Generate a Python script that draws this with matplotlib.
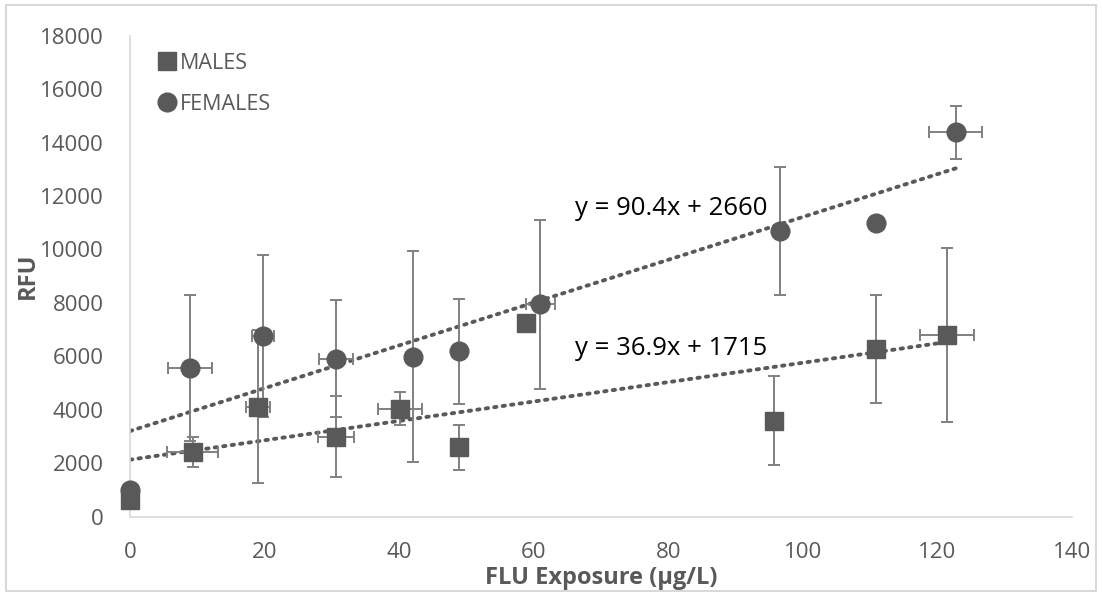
import numpy as np
import matplotlib
matplotlib.use("Agg")
import matplotlib.pyplot as plt
from matplotlib.patches import Rectangle

plt.rcParams['font.family'] = ['Open Sans', 'DejaVu Sans']

# MALES
male_x = [0, 9.3, 19.0, 30.6, 40.1, 48.9, 58.9, 95.7, 110.9, 121.4]
male_y = [650, 2420, 4120, 3000, 4050, 2610, 7260, 3600, 6280, 6810]
male_yerr = [0, 560, 2860, 1510, 630, 840, 0, 1670, 2010, 3260]
male_xerr = [0, 3.75, 1.75, 2.7, 3.3, 0, 0, 0, 0, 4.0]

# FEMALES
female_x = [0, 8.9, 19.8, 30.6, 42.0, 48.9, 61.0, 96.6, 110.9, 122.7]
female_y = [1020, 5570, 6770, 5920, 5990, 6190, 7950, 10690, 10980, 14380]
female_yerr = [0, 2730, 3020, 2180, 3950, 1960, 3150, 2400, 0, 1000]
female_xerr = [0, 3.3, 1.6, 2.5, 0, 0, 2.2, 0, 0, 3.95]

eq_female = "y = 90.4x + 2660"
eq_male = "y = 36.9x + 1715"

dark = '#595959'
errc = '#808080'

fig = plt.figure(figsize=(11.02, 5.96), dpi=100)
ax = fig.add_axes([0.118, 0.1326, 0.8548, 0.8078])

# outer chart border
fig.patches.append(Rectangle((0.005, 0.008), 0.99, 0.984, transform=fig.transFigure,
                             fill=False, edgecolor='#d9d9d9', linewidth=1.5))

for xs, ys, xe, ye in [(male_x, male_y, male_xerr, male_yerr),
                       (female_x, female_y, female_xerr, female_yerr)]:
    ax.errorbar(xs, ys, yerr=ye, xerr=xe, fmt='none', ecolor=errc,
                elinewidth=1.4, capsize=4.5, capthick=1.4, zorder=2)

ax.plot(male_x, male_y, 's', color=dark, markersize=13.5, linestyle='none',
        label='MALES', zorder=4, clip_on=False)
ax.plot(female_x, female_y, 'o', color=dark, markersize=13.5, linestyle='none',
        label='FEMALES', zorder=3, clip_on=False)

# linear trendlines
for xs, ys in [(male_x, male_y), (female_x, female_y)]:
    k, b = np.polyfit(xs, ys, 1)
    tx = np.array([0, max(xs)])
    ax.plot(tx, k * tx + b, linestyle=(0, (0.6, 1.6)), color=dark,
            linewidth=2.8, dash_capstyle='round', zorder=1)

ax.text(66.1, 11550, eq_female, fontsize=18.5, color='black', va='center')
ax.text(66.1, 6310, eq_male, fontsize=18.5, color='black', va='center')

ax.set_xlim(0, 140)
ax.set_ylim(0, 18000)
ax.set_xticks(range(0, 141, 20))
ax.set_yticks(range(0, 18001, 2000))
ax.tick_params(length=0, labelsize=16, labelcolor=dark)
ax.tick_params(axis='x', pad=18)
ax.tick_params(axis='y', pad=19)

for s in ['top', 'right']:
    ax.spines[s].set_visible(False)
for s in ['left', 'bottom']:
    ax.spines[s].set_color('#d9d9d9')
    ax.spines[s].set_linewidth(1.2)

ax.set_xlabel("FLU Exposure (µg/L)", fontsize=17, fontweight='bold', color=dark, va='center')
ax.set_ylabel("RFU", fontsize=17, fontweight='bold', color=dark, va='center')
ax.xaxis.set_label_coords(0.5, -0.127)
ax.yaxis.set_label_coords(-0.108, 0.5)

ax.legend(loc='upper left', bbox_to_anchor=(0.008, 1.004), frameon=False,
          fontsize=15.5, labelcolor=dark, handlelength=0.9, handletextpad=0.15,
          labelspacing=0.92, markerscale=1.0)

fig.savefig("out.png", dpi=100)
